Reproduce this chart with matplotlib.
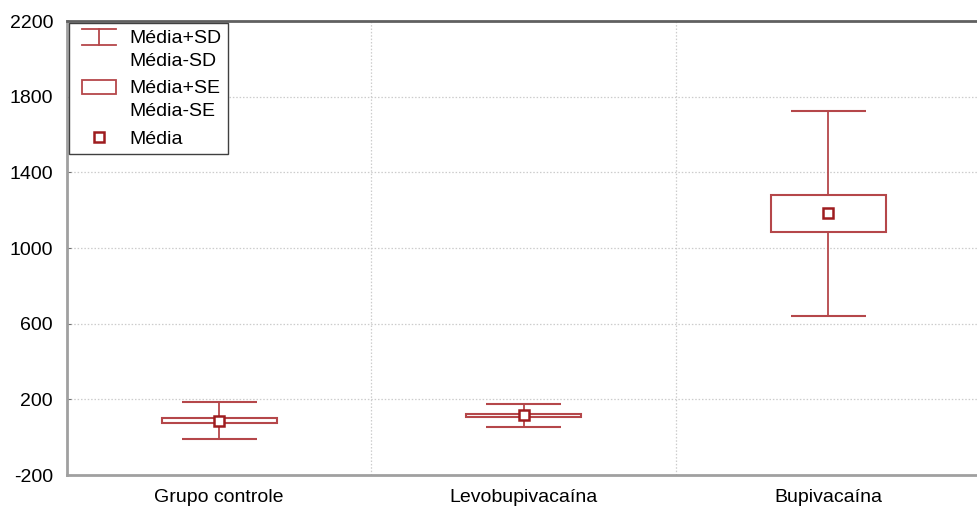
import matplotlib
matplotlib.use("Agg")
import matplotlib.pyplot as plt
from matplotlib.legend_handler import HandlerBase
from matplotlib.lines import Line2D
from matplotlib.patches import Rectangle

plt.rcParams['font.family'] = ['Liberation Sans', 'DejaVu Sans']

# Data: mean, standard deviation and standard error per group
groups = ["Grupo controle", "Levobupivacaína", "Bupivacaína"]
means = [88, 115, 1183]
sds = [96, 62, 541]
ses = [15, 10, 97]
yticks = [-200, 200, 600, 1000, 1400, 1800, 2200]

RED = '#b5474a'
DARK = '#9e1c1f'
GRID = '#cccccc'

fig = plt.figure(figsize=(9.78, 5.07), dpi=100)
ax = fig.add_axes([0.0685, 0.063, 0.934, 0.8955])

x = list(range(len(groups)))
box_w = 0.377
cap_w = 0.245

for xi, m, sd, se in zip(x, means, sds, ses):
    # SD whiskers
    ax.vlines(xi, m + se, m + sd, color=RED, lw=1.3, zorder=3)
    ax.vlines(xi, m - sd, m - se, color=RED, lw=1.3, zorder=3)
    ax.hlines([m + sd, m - sd], xi - cap_w / 2, xi + cap_w / 2,
              color=RED, lw=1.5, zorder=3)
# SE boxes
ax.bar(x, [2 * s for s in ses], bottom=[m - s for m, s in zip(means, ses)],
       width=box_w, fill=False, edgecolor=RED, lw=1.5, zorder=3)
# Means
ax.plot(x, means, linestyle='none', marker='s', markersize=7,
        markerfacecolor='white', markeredgecolor=DARK, markeredgewidth=1.8,
        zorder=4)

ax.set_xlim(-0.5, 2.5)
ax.set_ylim(-200, 2200)
ax.set_yticks(yticks)
ax.set_yticklabels([str(v) for v in yticks])
ax.set_xticks(x)
ax.set_xticklabels(groups)
ax.tick_params(axis='both', labelsize=14, colors='black')
ax.tick_params(axis='x', length=0, pad=10)
ax.tick_params(axis='y', length=3, direction='in', color='#707070', pad=10)

# dotted grid
for v in yticks[1:-1]:
    ax.axhline(v, color=GRID, lw=0.9, ls=(0, (1.2, 1.5)), zorder=1)
for v in [0.5, 1.5]:
    ax.axvline(v, color=GRID, lw=0.9, ls=(0, (1.2, 1.5)), zorder=1)

for side in ['left', 'bottom']:
    ax.spines[side].set_color('#a0a0a0')
    ax.spines[side].set_linewidth(2)
ax.spines['top'].set_color('#606060')
ax.spines['top'].set_linewidth(2)
ax.spines['right'].set_visible(False)

PX = 72 / 100  # points per pixel
HW = 34 * PX   # drawn handle width


class HandlerSD(HandlerBase):
    def create_artists(self, legend, orig_handle, xdescent, ydescent,
                       width, height, fontsize, trans):
        x1 = width - xdescent
        x0 = x1 - HW
        cx = (x0 + x1) / 2
        top = 19.7 - ydescent
        bot = 8.0 - ydescent
        l1 = Line2D([x0, x1], [top, top], color=RED, lw=1.3)
        l2 = Line2D([x0, x1], [bot, bot], color=RED, lw=1.3)
        l3 = Line2D([cx, cx], [bot, top], color=RED, lw=1.3)
        for a in (l1, l2, l3):
            a.set_transform(trans)
        return [l1, l2, l3]


class HandlerSE(HandlerBase):
    def create_artists(self, legend, orig_handle, xdescent, ydescent,
                       width, height, fontsize, trans):
        x1 = width - xdescent
        r = Rectangle((x1 - HW, 8.7 - ydescent), HW, 10.2,
                      fill=False, edgecolor=RED, lw=1.3, transform=trans)
        return [r]


class HandlerMean(HandlerBase):
    def create_artists(self, legend, orig_handle, xdescent, ydescent,
                       width, height, fontsize, trans):
        x1 = width - xdescent
        m = Line2D([x1 - HW / 2], [height / 2 - ydescent],
                   linestyle='none', marker='s', markersize=7,
                   markerfacecolor='white', markeredgecolor=DARK,
                   markeredgewidth=1.8, transform=trans)
        return [m]


h_sd, h_se, h_mean = object(), object(), object()
leg = ax.legend([h_sd, h_se, h_mean],
                ["Média+SD\nMédia-SD", "Média+SE\nMédia-SE", "Média"],
                handler_map={h_sd: HandlerSD(), h_se: HandlerSE(),
                             h_mean: HandlerMean()},
                loc='upper left', bbox_to_anchor=(0.0, 1.0),
                borderaxespad=0.12, fontsize=14, frameon=True, fancybox=False,
                edgecolor='#404040', framealpha=1, handlelength=2.1,
                handletextpad=0.68, labelspacing=0.5, borderpad=0.32)
leg.get_frame().set_linewidth(1.0)
for t in leg.get_texts():
    t.set_linespacing(1.5)

fig.savefig('out.png', dpi=100)
